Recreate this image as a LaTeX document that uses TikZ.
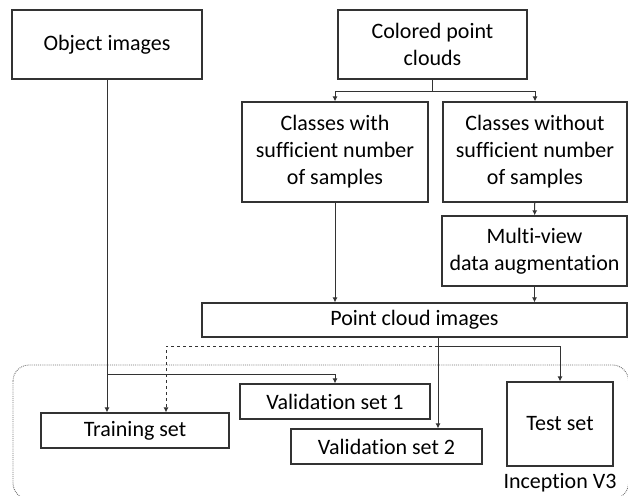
\documentclass[tikz,border=0pt]{standalone}
\usepackage{fontspec}
\setmainfont{Carlito}[Ligatures=NoCommon]
\usetikzlibrary{arrows.meta}

\begin{document}
\begin{tikzpicture}[
        % Environment Config
        x=1pt, y=-1pt,
        font=\fontsize{22}{27}\selectfont,
        Box/.style={% Style for the blocks
          draw=black!80,
          line width=1.2pt,
          align=center,
          inner sep=0pt,
          minimum width=#1
        },
        Flow/.style={% Style for the connectors
          -{Latex[length=5pt,width=5pt]},
          draw=black!80,
          line width=1pt
        },
        Frame/.style={% Style for the network frame
          draw=black!55,
          densely dotted,
          line width=0.9pt,
          rounded corners=16pt
        }
      ]

      \useasboundingbox (0,0) rectangle (628,495);

      % Put the blocks in position
      \draw(107,44.5) node[Box=190pt,minimum height=69pt](ObjImg){Object images};
      \draw(432.5,44.5) node[Box=189pt,minimum height=69pt](ColPC){Colored point\\clouds};
      \draw(335,152) node[Box=186pt,minimum height=100pt](WithCls){Classes with\\sufficient number\\of samples};
      \draw(535,152) node[Box=184pt,minimum height=100pt](WithoutCls){Classes without\\sufficient number\\of samples};
      \draw(534.5,251) node[Box=185pt,minimum height=70pt](MultiView){Multi-view\\data augmentation};
      \draw(414.5,320) node[Box=425pt,minimum height=34pt](PCImg){Point cloud images};

      %===Inception V3 frame===
      \draw[Frame] (13,365) rectangle (628.5,499);
      \draw(560,483) node[](Incep){Inception V3};

      \draw(135,430.5) node[Box=188pt,minimum height=35pt](Train){Training set};
      \draw(335,401.5) node[Box=190pt,minimum height=35pt](Val1){Validation set 1};
      \draw(386.5,446.5) node[Box=191pt,minimum height=35pt](Val2){Validation set 2};
      \draw(560,424) node[Box=106pt,minimum height=84pt](Test){Test set};

      % Some branch points
      \coordinate (ColSplit) at (432.5,91);
      \coordinate (ObjSplit) at (107,374);
      \coordinate (PCOut) at (438,337);
      \coordinate (PCSplit) at (438,346);

      % Draw the connectors
      \draw[black!80,line width=1pt] (ColPC) -- (ColSplit);
      \draw[Flow] (ColSplit) -| (WithCls.north);
      \draw[Flow] (ColSplit) -| (WithoutCls.north);
      \draw[Flow] (WithCls) -- (WithCls |- PCImg.north);
      \draw[Flow] (WithoutCls) -- (MultiView);
      \draw[Flow] (MultiView) -- (MultiView |- PCImg.north);

      %===Object images===
      \draw[Flow] (ObjImg) -- (ObjImg |- Train.north);
      \draw[Flow] (ObjSplit) -| (Val1.north);

      %===Point cloud images===
      \draw[Flow] (PCOut) -- (PCOut |- Val2.north);
      \draw[Flow,dashed] (PCSplit) -| ([xshift=31pt]Train.north);
      \draw[Flow] (PCSplit) -| (Test.north);

      \end{tikzpicture}
\end{document}
